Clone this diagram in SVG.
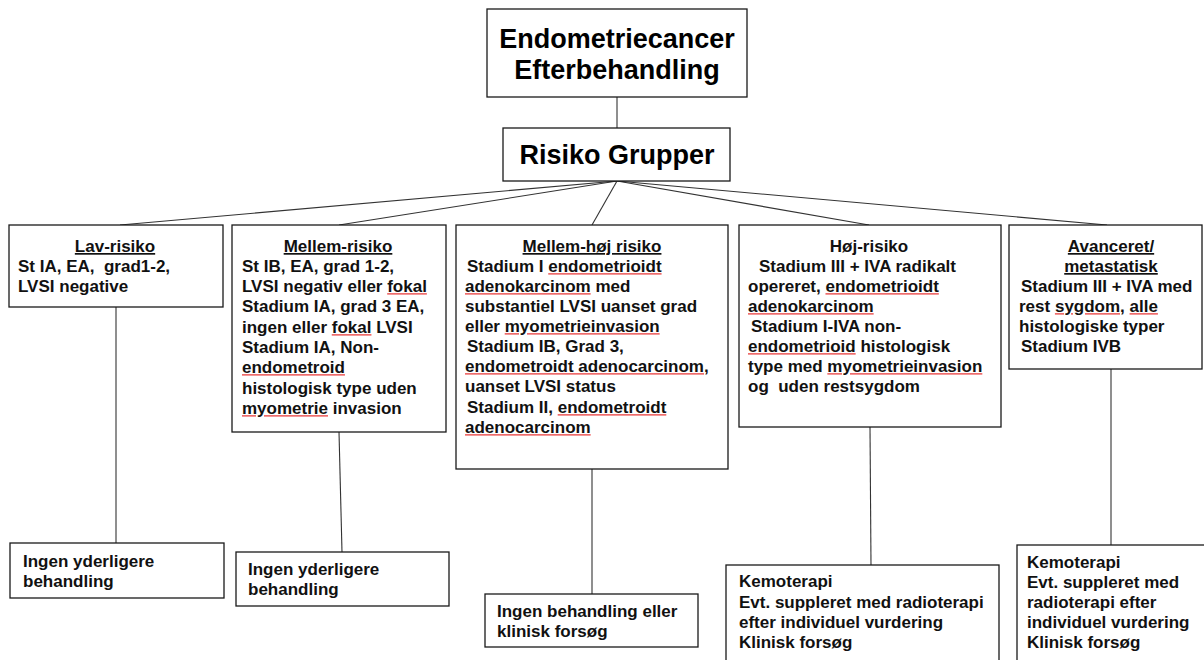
<svg xmlns="http://www.w3.org/2000/svg" width="1204" height="660" viewBox="0 0 1204 660">
<style>
.box{fill:#fff;stroke:#1a1a1a;stroke-width:1.3}
.t{font-family:"Liberation Sans",Arial,sans-serif;font-weight:bold;font-size:17px;fill:#111}
.big{font-family:"Liberation Sans",Arial,sans-serif;font-weight:bold;font-size:27px;fill:#000}
.u{text-decoration:underline}
.sq{fill:#ee6b6b;text-decoration:underline dotted;text-decoration-thickness:1px;text-underline-offset:3px}
.sq tspan{fill:#111}
.c line{stroke:#333;stroke-width:1.1}
</style>
<rect width="1204" height="660" fill="#fff"/>
<g class="c" id="connectors">
<line x1="617" y1="97" x2="617" y2="128"/>
<line x1="617" y1="181" x2="120" y2="225"/>
<line x1="617" y1="181" x2="339" y2="225"/>
<line x1="617" y1="181" x2="592" y2="225"/>
<line x1="617" y1="181" x2="869" y2="225"/>
<line x1="617" y1="181" x2="1107" y2="225"/>
<line x1="116" y1="307" x2="116" y2="543"/>
<line x1="339" y1="432" x2="342" y2="552"/>
<line x1="592" y1="469" x2="592" y2="594"/>
<line x1="870" y1="427" x2="871" y2="565"/>
<line x1="1111" y1="369" x2="1111" y2="545"/>
</g>
<g id="n-title">
<rect class="box" x="487" y="9" width="260" height="88"/>
<text class="big" x="617" y="48" text-anchor="middle">Endometriecancer</text>
<text class="big" x="617" y="79" text-anchor="middle">Efterbehandling</text>
</g>
<g id="n-risiko">
<rect class="box" x="503" y="128" width="227" height="53"/>
<text class="big" x="617" y="164" text-anchor="middle">Risiko Grupper</text>
</g>
<g id="n-lav">
<rect class="box" x="9" y="225" width="214" height="82"/>
<text class="t" x="115" y="252" text-anchor="middle"><tspan class="u">Lav-risiko</tspan></text>
<text class="t" x="18" y="272" xml:space="preserve">St IA, EA,  grad1-2,</text>
<text class="t" x="18" y="292">LVSI negative</text>
</g>
<g id="n-mellem">
<rect class="box" x="232" y="225" width="214" height="207"/>
<text class="t" x="338" y="252" text-anchor="middle"><tspan class="u">Mellem-risiko</tspan></text>
<text class="t" x="242" y="272">St IB, EA, grad 1-2,</text>
<text class="t" x="242" y="292">LVSI negativ eller <tspan class="sq"><tspan>fokal</tspan></tspan></text>
<text class="t" x="242" y="312">Stadium IA, grad 3 EA,</text>
<text class="t" x="242" y="333">ingen eller <tspan class="sq"><tspan>fokal</tspan></tspan> LVSI</text>
<text class="t" x="242" y="353">Stadium IA, Non-</text>
<text class="t" x="242" y="373"><tspan class="sq"><tspan>endometroid</tspan></tspan></text>
<text class="t" x="242" y="394">histologisk type uden</text>
<text class="t" x="242" y="414"><tspan class="sq"><tspan>myometrie</tspan></tspan> invasion</text>
</g>
<g id="n-mellemhoj">
<rect class="box" x="456" y="225" width="272" height="244"/>
<text class="t" x="592" y="252" text-anchor="middle"><tspan class="u">Mellem-høj risiko</tspan></text>
<text class="t" x="467" y="272">Stadium I <tspan class="sq"><tspan>endometrioidt</tspan></tspan></text>
<text class="t" x="465" y="292"><tspan class="sq"><tspan>adenokarcinom</tspan></tspan> med</text>
<text class="t" x="465" y="312">substantiel LVSI uanset grad</text>
<text class="t" x="465" y="332">eller <tspan class="sq"><tspan>myometrieinvasion</tspan></tspan></text>
<text class="t" x="467" y="352">Stadium IB, Grad 3,</text>
<text class="t" x="465" y="372"><tspan class="sq"><tspan>endometroidt adenocarcinom,</tspan></tspan></text>
<text class="t" x="465" y="392">uanset LVSI status</text>
<text class="t" x="467" y="413">Stadium II, <tspan class="sq"><tspan>endometroidt</tspan></tspan></text>
<text class="t" x="465" y="433"><tspan class="sq"><tspan>adenocarcinom</tspan></tspan></text>
</g>
<g id="n-hoj">
<rect class="box" x="739" y="225" width="262" height="202"/>
<text class="t" x="869" y="252" text-anchor="middle">Høj-risiko</text>
<text class="t" x="759" y="272">Stadium III + IVA radikalt</text>
<text class="t" x="748" y="292">opereret, <tspan class="sq"><tspan>endometrioidt</tspan></tspan></text>
<text class="t" x="748" y="312"><tspan class="sq"><tspan>adenokarcinom</tspan></tspan></text>
<text class="t" x="751" y="332">Stadium I-IVA non-</text>
<text class="t" x="748" y="352"><tspan class="sq"><tspan>endometrioid</tspan></tspan> histologisk</text>
<text class="t" x="748" y="372">type med <tspan class="sq"><tspan>myometrieinvasion</tspan></tspan></text>
<text class="t" x="748" y="392" xml:space="preserve">og  uden restsygdom</text>
</g>
<g id="n-avanceret">
<rect class="box" x="1009" y="225" width="193" height="144"/>
<text class="t" x="1111" y="252" text-anchor="middle"><tspan class="u">Avanceret/</tspan></text>
<text class="t" x="1111" y="272" text-anchor="middle"><tspan class="u">metastatisk</tspan></text>
<text class="t" x="1021" y="292">Stadium III + IVA med</text>
<text class="t" x="1019" y="312">rest <tspan class="sq"><tspan>sygdom,</tspan></tspan> <tspan class="sq"><tspan>alle</tspan></tspan></text>
<text class="t" x="1019" y="332">histologiske typer</text>
<text class="t" x="1021" y="352">Stadium IVB</text>
</g>
<g id="n-lav-beh">
<rect class="box" x="10" y="543" width="214" height="55"/>
<text class="t" x="23" y="567">Ingen yderligere</text>
<text class="t" x="23" y="587">behandling</text>
</g>
<g id="n-mellem-beh">
<rect class="box" x="236" y="552" width="213" height="54"/>
<text class="t" x="248" y="575">Ingen yderligere</text>
<text class="t" x="248" y="595">behandling</text>
</g>
<g id="n-mellemhoj-beh">
<rect class="box" x="485" y="594" width="213" height="53"/>
<text class="t" x="497" y="617">Ingen behandling eller</text>
<text class="t" x="497" y="637">klinisk forsøg</text>
</g>
<g id="n-hoj-beh">
<rect class="box" x="726" y="565" width="273" height="110"/>
<text class="t" x="739" y="587">Kemoterapi</text>
<text class="t" x="739" y="608">Evt. suppleret med radioterapi</text>
<text class="t" x="739" y="628">efter individuel vurdering</text>
<text class="t" x="739" y="648">Klinisk forsøg</text>
</g>
<g id="n-avanceret-beh">
<rect class="box" x="1017" y="545" width="200" height="130"/>
<text class="t" x="1027" y="568">Kemoterapi</text>
<text class="t" x="1027" y="588">Evt. suppleret med</text>
<text class="t" x="1027" y="608">radioterapi efter</text>
<text class="t" x="1027" y="628">individuel vurdering</text>
<text class="t" x="1027" y="648">Klinisk forsøg</text>
</g>
</svg>
